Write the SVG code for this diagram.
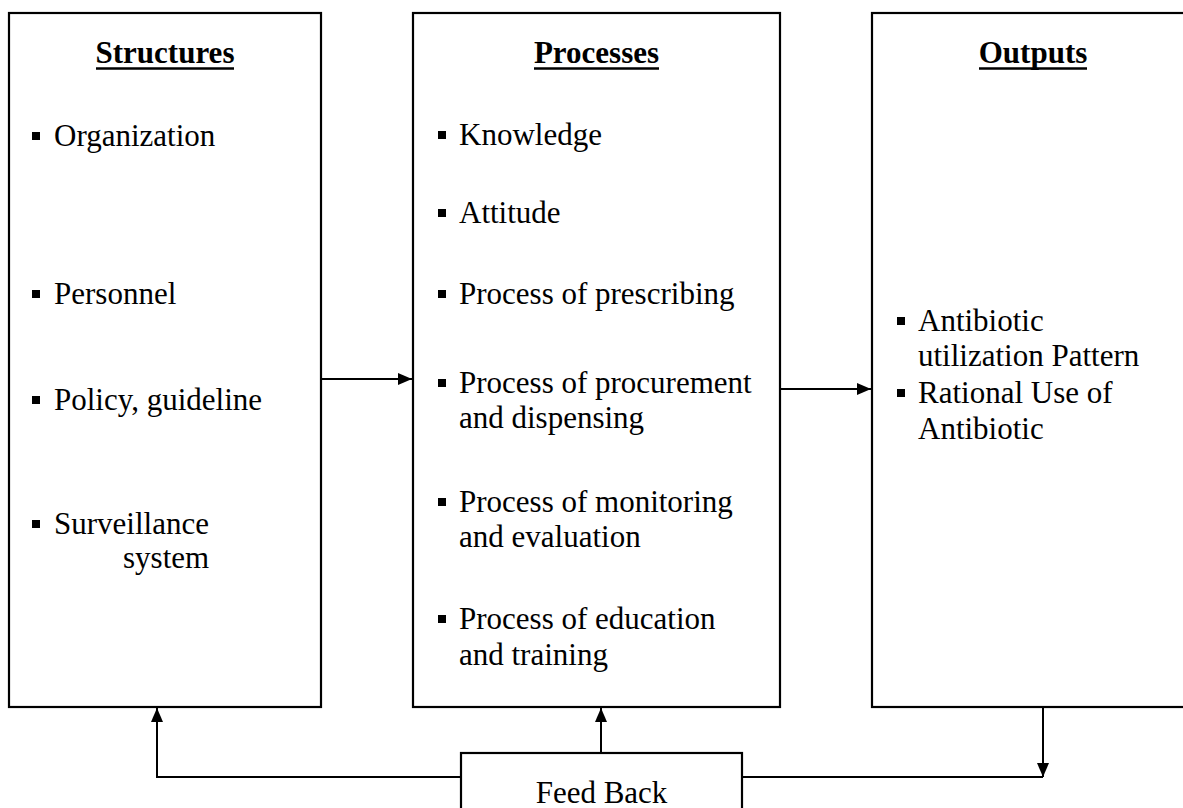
<svg xmlns="http://www.w3.org/2000/svg" width="1183" height="808" viewBox="0 0 1183 808">
  <style>
    .box { fill: #ffffff; stroke: #000000; stroke-width: 2.2; }
    .conn { fill: none; stroke: #000000; stroke-width: 2; }
    .head { font-family: "Liberation Serif", "Times New Roman", serif; font-size: 31px; font-weight: bold; fill: #000000; text-anchor: middle; }
    .item { font-family: "Liberation Serif", "Times New Roman", serif; font-size: 31px; fill: #000000; }
    .rule { stroke: #000000; stroke-width: 2.5; }
    .dot { fill: #000000; }
  </style>
  <defs>
    <marker id="arrow" viewBox="0 0 14 12" refX="14" refY="6" markerWidth="14" markerHeight="12" markerUnits="userSpaceOnUse" orient="auto">
      <path d="M0,0 L14,6 L0,12 Z" fill="#000000"/>
    </marker>
  </defs>
  <rect width="1183" height="808" fill="#ffffff"/>

  <!-- Structures column -->
  <g id="structures">
    <rect class="box" x="9" y="13" width="312" height="694"/>
    <text class="head" x="165" y="63">Structures</text>
    <line class="rule" x1="96" y1="68.5" x2="234" y2="68.5"/>
    <rect class="dot" x="32" y="132" width="8" height="8"/>
    <text class="item" x="54" y="146">Organization</text>
    <rect class="dot" x="32" y="290" width="8" height="8"/>
    <text class="item" x="54" y="304">Personnel</text>
    <rect class="dot" x="32" y="396" width="8" height="8"/>
    <text class="item" x="54" y="410">Policy, guideline</text>
    <rect class="dot" x="32" y="520" width="8" height="8"/>
    <text class="item" x="54" y="534">Surveillance</text>
    <text class="item" x="123" y="568">system</text>
  </g>

  <!-- Processes column -->
  <g id="processes">
    <rect class="box" x="413" y="13" width="367" height="694"/>
    <text class="head" x="596.5" y="63">Processes</text>
    <line class="rule" x1="534" y1="68.5" x2="659" y2="68.5"/>
    <rect class="dot" x="438" y="131" width="8" height="8"/>
    <text class="item" x="459" y="145">Knowledge</text>
    <rect class="dot" x="438" y="209" width="8" height="8"/>
    <text class="item" x="459" y="223">Attitude</text>
    <rect class="dot" x="438" y="290" width="8" height="8"/>
    <text class="item" x="459" y="304">Process of prescribing</text>
    <rect class="dot" x="438" y="379" width="8" height="8"/>
    <text class="item" x="459" y="393">Process of procurement</text>
    <text class="item" x="459" y="428">and dispensing</text>
    <rect class="dot" x="438" y="498" width="8" height="8"/>
    <text class="item" x="459" y="512">Process of monitoring</text>
    <text class="item" x="459" y="547">and evaluation</text>
    <rect class="dot" x="438" y="615" width="8" height="8"/>
    <text class="item" x="459" y="629">Process of education</text>
    <text class="item" x="459" y="665">and training</text>
  </g>

  <!-- Outputs column -->
  <g id="outputs">
    <rect class="box" x="872" y="13" width="330" height="694"/>
    <text class="head" x="1033" y="63">Outputs</text>
    <line class="rule" x1="979" y1="68.5" x2="1087" y2="68.5"/>
    <rect class="dot" x="897" y="317" width="8" height="8"/>
    <text class="item" x="918" y="331">Antibiotic</text>
    <text class="item" x="918" y="366">utilization Pattern</text>
    <rect class="dot" x="897" y="389" width="8" height="8"/>
    <text class="item" x="918" y="403">Rational Use of</text>
    <text class="item" x="918" y="439">Antibiotic</text>
  </g>

  <!-- Feed Back box -->
  <g id="feedback">
    <rect class="box" x="461" y="753" width="281" height="70"/>
    <text class="item" x="601.5" y="803" text-anchor="middle">Feed Back</text>
  </g>

  <!-- Connectors -->
  <g id="connectors">
    <line class="conn" x1="321" y1="379" x2="412" y2="379" marker-end="url(#arrow)"/>
    <line class="conn" x1="780" y1="389" x2="871" y2="389" marker-end="url(#arrow)"/>
    <polyline class="conn" points="461,777 157,777 157,708" marker-end="url(#arrow)"/>
    <line class="conn" x1="601" y1="753" x2="601" y2="708" marker-end="url(#arrow)"/>
    <line class="conn" x1="1043" y1="707" x2="1043" y2="777" marker-end="url(#arrow)"/>
    <line class="conn" x1="742" y1="777" x2="1043" y2="777"/>
  </g>
</svg>
